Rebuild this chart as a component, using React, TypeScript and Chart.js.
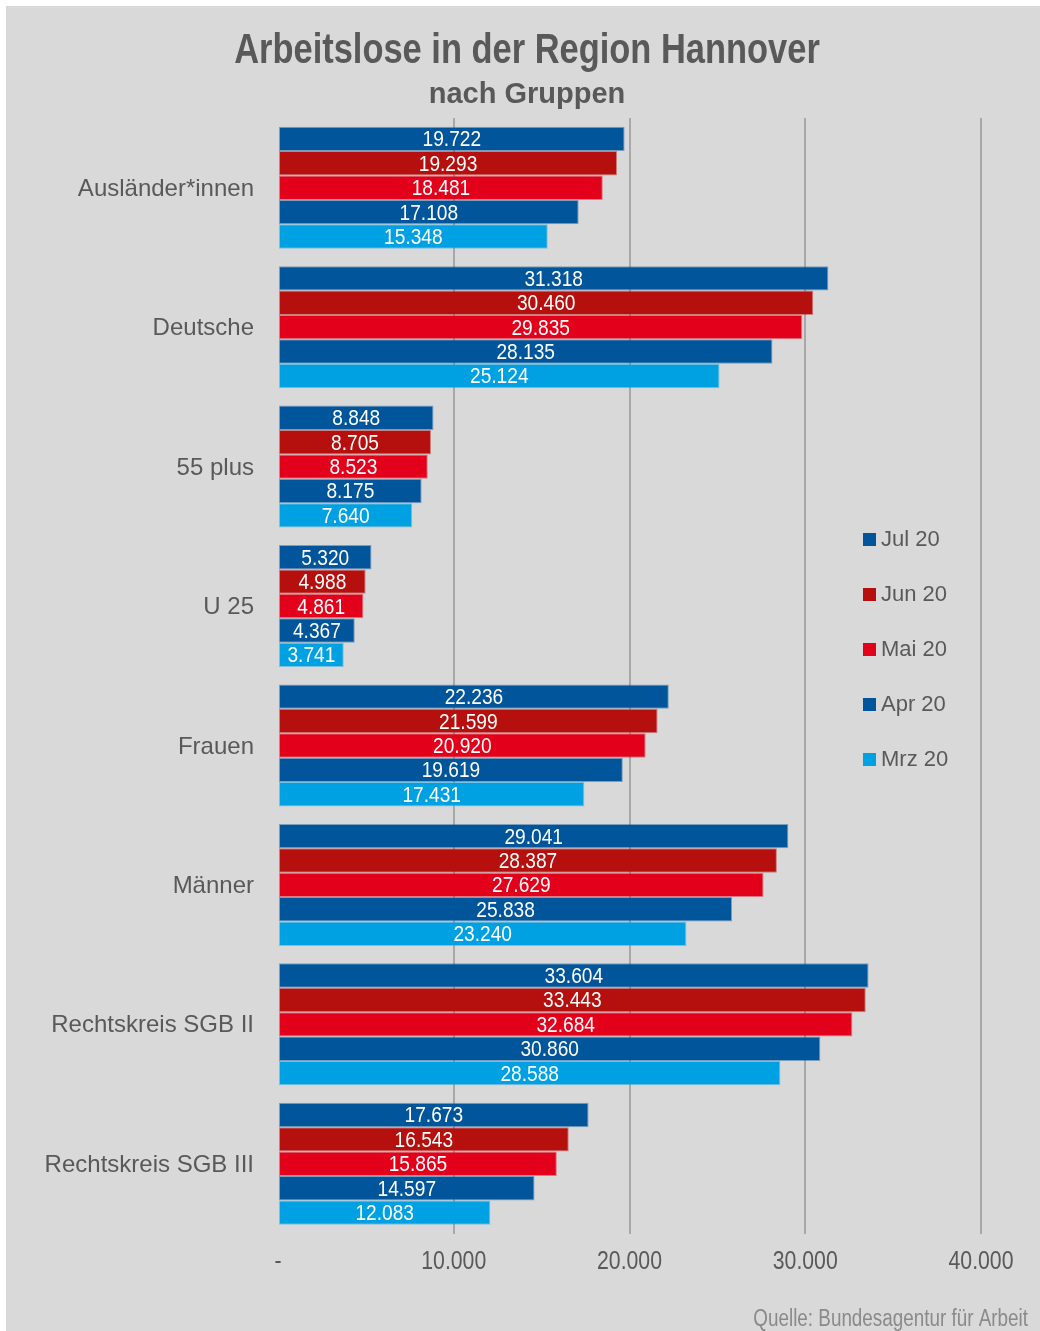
import React, { useEffect, useRef } from "react";
import { Chart, registerables } from "chart.js";

Chart.register(...registerables);

const categories = [
  "Ausländer*innen",
  "Deutsche",
  "55 plus",
  "U 25",
  "Frauen",
  "Männer",
  "Rechtskreis SGB II",
  "Rechtskreis SGB III",
];
const seriesNames = ["Jul 20", "Jun 20", "Mai 20", "Apr 20", "Mrz 20"];
const jul20 = [19722, 31318, 8848, 5320, 22236, 29041, 33604, 17673];
const jun20 = [19293, 30460, 8705, 4988, 21599, 28387, 33443, 16543];
const mai20 = [18481, 29835, 8523, 4861, 20920, 27629, 32684, 15865];
const apr20 = [17108, 28135, 8175, 4367, 19619, 25838, 30860, 14597];
const mrz20 = [15348, 25124, 7640, 3741, 17431, 23240, 28588, 12083];
const seriesValues = [jul20, jun20, mai20, apr20, mrz20];
const seriesColors = ["#00559b", "#b5100e", "#e2001a", "#00559b", "#00a1e2"];
const xMin = 0;
const xMax = 40000;
const xStep = 10000;
const titleText = "Arbeitslose in der Region Hannover";
const subtitleText = "nach Gruppen";
const sourceText = "Quelle: Bundesagentur für Arbeit";

const TEXT = "#595959";
const FONT = "'Liberation Sans', Arial, sans-serif";

function fmt(n: number): string {
  if (n === 0) return "-";
  return String(Math.round(n)).replace(/\B(?=(\d{3})+(?!\d))/g, ".");
}

function drawScaled(
  ctx: CanvasRenderingContext2D,
  text: string,
  x: number,
  y: number,
  font: string,
  sx: number,
  align: CanvasTextAlign,
  color: string
) {
  ctx.save();
  ctx.translate(x, y);
  ctx.scale(sx, 1);
  ctx.font = font;
  ctx.fillStyle = color;
  ctx.textAlign = align;
  ctx.textBaseline = "alphabetic";
  ctx.fillText(text, 0, 0);
  ctx.restore();
}

const customText = {
  id: "customText",
  afterDraw(chart: any) {
    const ctx = chart.ctx as CanvasRenderingContext2D;
    // title + subtitle
    drawScaled(ctx, titleText, 521, 57, `bold 42px ${FONT}`, 0.82, "center", TEXT);
    drawScaled(ctx, subtitleText, 521, 97, `bold 29px ${FONT}`, 1, "center", TEXT);

    // bar value labels
    chart.data.datasets.forEach((ds: any, di: number) => {
      const meta = chart.getDatasetMeta(di);
      meta.data.forEach((bar: any, i: number) => {
        const x = (bar.x + bar.base) / 2;
        drawScaled(ctx, fmt(ds.data[i]), x, bar.y + 7.5, `22px ${FONT}`, 0.87, "center", "#ffffff");
      });
    });

    // x tick labels
    const xs = chart.scales.x;
    xs.ticks.forEach((t: any) => {
      drawScaled(ctx, fmt(t.value), xs.getPixelForValue(t.value), 1263, `25px ${FONT}`, 0.85, "center", TEXT);
    });

    // source
    drawScaled(ctx, sourceText, 1022, 1320, `23px ${FONT}`, 0.82, "right", "#8a8a8a");
  },
};

export default function App() {
  const ref = useRef<HTMLCanvasElement | null>(null);

  useEffect(() => {
    if (!ref.current) return;
    const chart = new Chart(ref.current, {
      type: "bar",
      data: {
        labels: categories,
        datasets: seriesNames.map((name, i) => ({
          label: name,
          data: seriesValues[i],
          backgroundColor: seriesColors[i],
          borderColor: seriesColors[i] + "70",
          borderWidth: 1,
          borderSkipped: false,
          barPercentage: 1,
          categoryPercentage: 0.875,
        })),
      },
      options: {
        indexAxis: "y",
        responsive: false,
        animation: false,
        devicePixelRatio: 1,
        layout: { padding: { left: 0, right: 59, top: 112, bottom: 37.5 } },
        plugins: {
          legend: { display: false },
          tooltip: { enabled: false },
          title: { display: false },
        },
        scales: {
          x: {
            type: "linear",
            position: "bottom",
            min: xMin,
            max: xMax,
            z: 1,
            border: { display: false },
            afterFit: (s: any) => {
              s.height = 60;
            },
            grid: {
              drawTicks: false,
              lineWidth: 2,
              color: (c: any) => (c.tick && c.tick.value === 0 ? "rgba(0,0,0,0)" : "rgba(128,128,128,0.55)"),
            },
            ticks: {
              stepSize: xStep,
              padding: 14,
              color: "rgba(0,0,0,0)",
              font: { family: FONT, size: 25 },
              callback: (v: any) => fmt(Number(v)),
            },
          },
          y: {
            type: "category",
            border: { display: false },
            grid: { display: false, drawTicks: false },
            afterFit: (s: any) => {
              s.width = 272;
            },
            ticks: {
              padding: 24,
              labelOffset: 1.5,
              color: TEXT,
              font: { family: FONT, size: 24 },
            },
          },
        },
      },
      plugins: [customText],
    } as any);
    return () => chart.destroy();
  }, []);

  const legendCenters = [539, 594, 649, 704, 759];

  return (
    <div style={{ position: "absolute", left: 0, top: 0, width: 1040, height: 1331, background: "#ffffff", overflow: "hidden" }}>
      <canvas
        ref={ref}
        width={1034}
        height={1325}
        style={{ position: "absolute", left: 6, top: 6, width: 1034, height: 1325, background: "#d9d9d9" }}
      />
      {seriesNames.map((name, i) => (
        <div
          key={name + i}
          style={{
            position: "absolute",
            left: 863,
            top: legendCenters[i] - 14,
            height: 28,
            display: "flex",
            alignItems: "center",
            fontFamily: FONT,
            fontSize: 22,
            color: TEXT,
            whiteSpace: "nowrap",
          }}
        >
          <span style={{ display: "inline-block", width: 13, height: 13, background: seriesColors[i], marginRight: 5 }} />
          <span>{name}</span>
        </div>
      ))}
    </div>
  );
}
